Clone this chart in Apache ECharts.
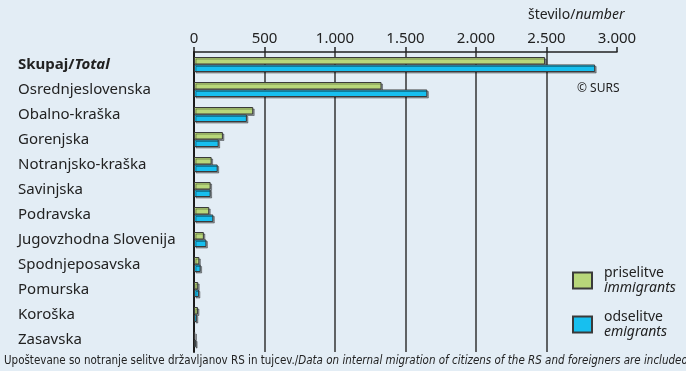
<!DOCTYPE html>
<html>
<head>
<meta charset="utf-8">
<script src="https://cdn.jsdelivr.net/npm/echarts@6/dist/echarts.min.js"></script>
<style>
html,body{margin:0;padding:0;background:#e3edf5;}
#c{width:686px;height:371px;}
</style>
</head>
<body>
<div id="c"></div>
<script>
const categories = ['Skupaj/Total','Osrednjeslovenska','Obalno-kraška','Gorenjska','Notranjsko-kraška','Savinjska','Podravska','Jugovzhodna Slovenija','Spodnjeposavska','Pomurska','Koroška','Zasavska'];
const immigrants = [2490,1330,420,205,125,118,108,70,38,30,28,9];
const emigrants = [2845,1655,375,175,168,118,137,88,47,35,20,15];
const seriesNames = ['priselitve','odselitve'];
const seriesNamesEn = ['immigrants','emigrants'];
const axisMax = 3000;
const axisStep = 500;

const FONT = '"Noto Sans", "Open Sans", sans-serif';
const NARROW = '"Liberation Sans Narrow", "DejaVu Sans Condensed", "Noto Sans", sans-serif';
const noteSl = 'Upoštevane so notranje selitve državljanov RS in tujcev./';
const noteEn = 'Data on internal migration of citizens of the RS and foreigners are included';

const chart = echarts.init(document.getElementById('c'), null, {renderer:'canvas'});

function fmt(v){ return String(v).replace(/\B(?=(\d{3})+(?!\d))/g,'.'); }

function textWidth(str, font){
  const c = document.createElement('canvas').getContext('2d');
  c.font = font; return c.measureText(str).width;
}
const NOTE_SIZE = 12.5;
const wNote = textWidth(noteSl, NOTE_SIZE + 'px ' + NARROW) + textWidth(noteEn, 'italic ' + NOTE_SIZE + 'px ' + NARROW);
const scaleNote = 684 / wNote;

const barStyle = (color) => ({
  color: color,
  borderColor: '#3a3a3a',
  borderWidth: 1,
  shadowColor: 'rgba(0,0,0,0.35)',
  shadowOffsetX: 1.5,
  shadowOffsetY: 1.5,
  shadowBlur: 0
});

chart.setOption({
  animation: false,
  backgroundColor: '#e3edf5',
  grid: {left: 194, right: 69, top: 52, bottom: 19, containLabel: false},
  xAxis: {
    type: 'value', position: 'top', min: 0, max: axisMax, interval: axisStep,
    axisLine: {show: true, lineStyle: {color: '#222', width: 1.5}},
    axisTick: {show: true, inside: false, length: 5, lineStyle: {color: '#222', width: 1.5}},
    axisLabel: {margin: 6, fontFamily: FONT, fontSize: 15, color: '#222', formatter: fmt},
    splitLine: {show: true, showMinLine: false, showMaxLine: false, lineStyle: {color: '#333', width: 1.5}}
  },
  yAxis: {
    type: 'category', inverse: true, data: categories,
    axisLine: {show: true, lineStyle: {color: '#1a1a1a', width: 2}},
    axisTick: {show: false},
    axisLabel: {
      margin: 176, align: 'left', fontFamily: FONT, fontSize: 15, color: '#222',
      formatter: function(v){
        if (v.indexOf('/') >= 0) { const p = v.split('/'); return '{b|' + p[0] + '/}{bi|' + p[1] + '}'; }
        return v;
      },
      rich: {
        b: {fontFamily: FONT, fontSize: 15, fontWeight: 'bold', color: '#222'},
        bi: {fontFamily: FONT, fontSize: 15, fontWeight: 'bold', fontStyle: 'italic', color: '#222'}
      }
    }
  },
  legend: {
    orient: 'vertical', left: 567, top: 261, itemWidth: 19, itemHeight: 16, itemGap: 15,
    icon: 'rect',
    data: seriesNames,
    formatter: function(n){ const i = seriesNames.indexOf(n); return '{a|' + n + '}\n{e|' + seriesNamesEn[i] + '}'; },
    textStyle: {
      padding: [0,0,0,7],
      rich: {
        a: {fontFamily: FONT, fontSize: 14, color: '#222', lineHeight: 15},
        e: {fontFamily: FONT, fontSize: 14, fontStyle: 'italic', color: '#222', lineHeight: 15}
      }
    }
  },
  series: [
    {name: seriesNames[0], type: 'bar', data: immigrants, barGap: '0%', barCategoryGap: '40%', itemStyle: barStyle('#b8d77a')},
    {name: seriesNames[1], type: 'bar', data: emigrants, barGap: '0%', barCategoryGap: '40%', itemStyle: barStyle('#17bfef')}
  ],
  graphic: [
    {type: 'text', left: 528, top: 8, style: {
      text: '{a|število/}{i|number}',
      rich: {a: {fontFamily: FONT, fontSize: 14, fill: '#222'}, i: {fontFamily: FONT, fontSize: 14, fontStyle: 'italic', fill: '#222'}}
    }},
    {type: 'text', left: 577, top: 83, style: {text: '© SURS', fontFamily: FONT, fontSize: 12, fill: '#222'}},
    {type: 'text', x: 4, y: 354, scaleX: scaleNote, style: {
      text: '{a|' + noteSl + '}{i|' + noteEn + '}',
      rich: {
        a: {fontFamily: NARROW, fontSize: NOTE_SIZE, fill: '#222'},
        i: {fontFamily: NARROW, fontSize: NOTE_SIZE, fontStyle: 'italic', fill: '#222'}
      }
    }}
  ]
});
</script>
</body>
</html>
